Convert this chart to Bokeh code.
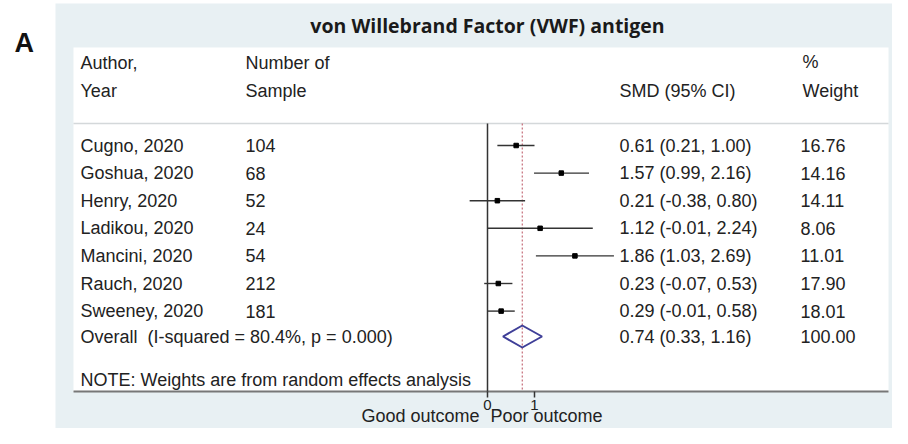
from bokeh.plotting import figure
from bokeh.models import Range1d, ColumnDataSource
from bokeh.core.properties import value
from bokeh.embed import file_html
from bokeh.resources import INLINE

# ---------------- data ----------------
authors = ["Cugno, 2020", "Goshua, 2020", "Henry, 2020", "Ladikou, 2020",
           "Mancini, 2020", "Rauch, 2020", "Sweeney, 2020"]
samples = [104, 68, 52, 24, 54, 212, 181]
smd = [0.61, 1.57, 0.21, 1.12, 1.86, 0.23, 0.29]
ci_lo = [0.21, 0.99, -0.38, -0.01, 1.03, -0.07, -0.01]
ci_hi = [1.00, 2.16, 0.80, 2.24, 2.69, 0.53, 0.58]
weights = [16.76, 14.16, 14.11, 8.06, 11.01, 17.90, 18.01]
overall_est, overall_lo, overall_hi = 0.74, 0.33, 1.16
overall_weight = 100.00
i_squared = 80.4
p_value = 0.000
x_ticks = [0, 1]

title_text = "von Willebrand Factor (VWF) antigen"
panel_letter = "A"

# ---------------- layout helpers ----------------
W, H = 892, 428
X0 = 487.0      # figure pixel of SMD = 0
SCALE = 47.0    # pixels per SMD unit


def px(xref):
    return (xref - X0) / SCALE


def py(yref):
    return yref


FONT = value("Liberation Sans")
TXT = "#222222"
FS = "18px"

p = figure(width=W, height=H, output_backend="svg", toolbar_location=None,
           x_range=Range1d(px(0), px(W)), y_range=Range1d(H, 0),
           min_border=0, background_fill_color="white", border_fill_color="white")
p.axis.visible = False
p.grid.visible = False
p.outline_line_color = None

# panels
p.quad(left=[px(55)], right=[px(900)], top=[py(3)], bottom=[py(440)],
       fill_color="#e8f0f3", line_color=None)
p.quad(left=[px(73)], right=[px(888)], top=[py(47)], bottom=[py(391)],
       fill_color="white", line_color=None)

# title & letter
p.text(x=[px(487)], y=[py(25)], text=[title_text], text_font=value("Open Sans"),
       text_font_style="bold", text_font_size="19.5px", text_color="#1a1a1a",
       text_align="center", text_baseline="middle")
p.text(x=[px(14)], y=[py(42)], text=[panel_letter], text_font=FONT,
       text_font_style="bold", text_font_size="27px", text_color="#111111",
       text_align="left", text_baseline="middle")

# header
hx = [px(80), px(80), px(245), px(245), px(619), px(802), px(802)]
hy = [py(62), py(90), py(62), py(90), py(90), py(61), py(90)]
ht = ["Author,", "Year", "Number of", "Sample", "SMD (95% CI)", "%", "Weight"]
p.text(x=hx, y=hy, text=ht, text_font=FONT, text_font_size=FS, text_color=TXT,
       text_align="left", text_baseline="middle")

# header separator & bottom axis line
p.segment(x0=[px(73)], x1=[px(888)], y0=[py(123)], y1=[py(123)],
          line_color="#d4d8da", line_width=1.5)
p.segment(x0=[px(73)], x1=[px(888)], y0=[py(391)], y1=[py(391)],
          line_color="#777777", line_width=2)

# rows
n = len(authors)
row_y = [py(145 + 27.6 * i) for i in range(n)]
ov_y = py(336)
src = ColumnDataSource(dict(
    y=row_y, author=authors, n=[str(s) for s in samples],
    est=smd, lo=ci_lo, hi=ci_hi,
    ci=[f"{e:.2f} ({l:.2f}, {h:.2f})" for e, l, h in zip(smd, ci_lo, ci_hi)],
    w=[f"{w:.2f}" for w in weights],
    xa=[px(80)] * n, xn=[px(245)] * n, xc=[px(619)] * n, xw=[px(800)] * n,
))
p.text(x="xa", y="y", text="author", source=src, text_font=FONT, text_font_size=FS,
       text_color=TXT, text_baseline="middle")
p.text(x="xn", y="y", text="n", source=src, text_font=FONT, text_font_size=FS,
       text_color=TXT, text_baseline="middle")
p.text(x="xc", y="y", text="ci", source=src, text_font=FONT, text_font_size=FS,
       text_color=TXT, text_baseline="middle")
p.text(x="xw", y="y", text="w", source=src, text_font=FONT, text_font_size=FS,
       text_color=TXT, text_baseline="middle")

# null line and overall dashed line
p.segment(x0=[0], x1=[0], y0=[py(123)], y1=[py(391)], line_color="#333333", line_width=1.5)
p.segment(x0=[overall_est], x1=[overall_est], y0=[py(123)], y1=[py(391)],
          line_color="#c46b78", line_width=1.2, line_dash="2 2")

# CIs and points
p.segment(x0="lo", x1="hi", y0="y", y1="y", source=src, line_color="#333333", line_width=1.4)
p.scatter(x="est", y="y", source=src, marker="square", size=4.5,
          fill_color="black", line_color="black")

# overall diamond
hh = 11
p.patch(x=[overall_lo, overall_est, overall_hi, overall_est],
        y=[ov_y, ov_y - hh, ov_y, ov_y + hh],
        fill_color=None, line_color="#3f3f98", line_width=2)
p.text(x=[px(80), px(619), px(800)], y=[ov_y] * 3,
       text=[f"Overall\u00a0 (I-squared = {i_squared:.1f}%, p = {p_value:.3f})",
             f"{overall_est:.2f} ({overall_lo:.2f}, {overall_hi:.2f})",
             f"{overall_weight:.2f}"],
       text_font=FONT, text_font_size=FS, text_color=TXT, text_baseline="middle")

p.text(x=[px(80)], y=[py(379)], text=["NOTE: Weights are from random effects analysis"],
       text_font=FONT, text_font_size=FS, text_color=TXT, text_baseline="middle")

# x axis ticks
p.segment(x0=x_ticks, x1=x_ticks, y0=[py(391)] * 2, y1=[py(397)] * 2,
          line_color="#333333", line_width=1.5)
p.text(x=x_ticks, y=[py(404)] * 2, text=[str(t) for t in x_ticks], text_font=FONT,
       text_font_size="15px", text_color=TXT, text_align="center", text_baseline="middle")
p.text(x=[px(479), px(490)], y=[py(415)] * 2, text=["Good outcome", "Poor outcome"],
       text_font=FONT, text_font_size=FS, text_color=TXT,
       text_align=["right", "left"], text_baseline="middle")

open("out.html", "w").write(file_html(p, INLINE))
